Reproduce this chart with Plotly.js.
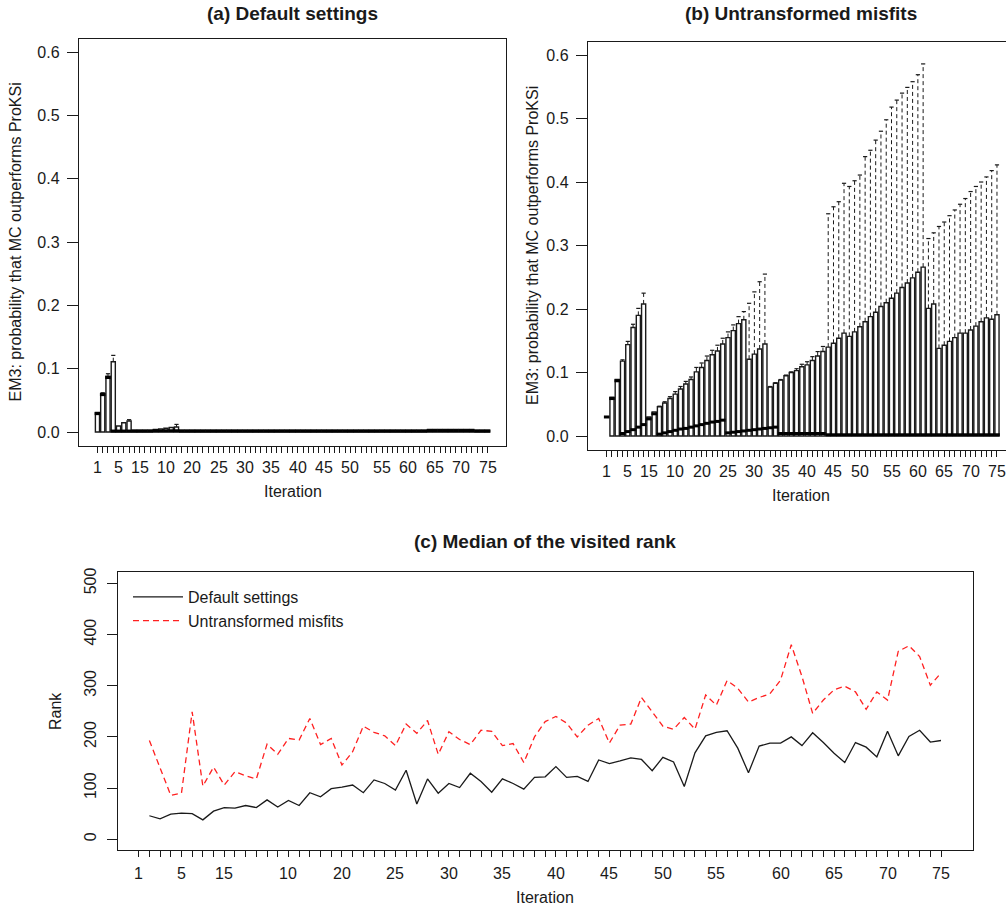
<!DOCTYPE html>
<html>
<head>
<meta charset="utf-8">
<script src="https://cdn.plot.ly/plotly-3.0.1.min.js"></script>
<style>
body{margin:0;background:#fff}
#chart{width:1006px;height:911px}
</style>
</head>
<body>
<div id="chart"></div>
<script>
// iteration positions of the boxes / points
var iterations = [1,2,3,4,5,6,7,8,9,10,11,12,13,14,15,16,17,18,19,20,21,22,23,24,25,
  26,27,28,29,30,31,32,33,34,35,36,37,38,39,40,41,42,43,44,45,46,47,48,49,50,
  51,52,53,54,55,56,57,58,59,60,61,62,63,64,65,66,67,68,69,70,71,72,73,74,75];
var ticksC = [0,1,2,3,4,5,6,7,8,9,10,11,12,13,14,15,16,17,18,19,20,21,22,23,24,25,
  26,27,28,29,30,31,32,33,34,35,36,37,38,39,40,41,42,43,44,45,46,47,48,49,50,
  51,52,53,54,55,56,57,58,59,60,61,62,63,64,65,66,67,68,69,70,71,72,73,74,75];

// tick labels as printed under the boxes
var tickLabels = ['1','5','15','10','20','25','30','35','40','45','50','55','60','65','70','75'];
var tickPosAB = [1,5,9,14,19,24,29,34,39,44,49,55,60,65,70,75];
var tickPosC = [0,4,8,14,19,24,29,34,39,44,49,54,60,65,70,75];

// (a) default settings: box statistics
var aQ1 = [0,0,0,0,0,0,0,0,0,0, 0,0,0,0,0,0,0,0,0,0, 0,0,0,0,0,0,0,0,0,0,
  0,0,0,0,0,0,0,0,0,0, 0,0,0,0,0,0,0,0,0,0, 0,0,0,0,0,0,0,0,0,0,
  0,0,0,0,0,0,0,0,0,0, 0,0,0,0,0];
var aMed = [0.029,0.059,0.086,0.0015,0.0015,0.0015,0.0015,0.0015,0.0015,0.0015,
  0.0015,0.002,0.002,0.002,0.002,0.002,0.0015,0.0015,0.0015,0.0015,
  0.0015,0.0015,0.0015,0.0015,0.0015,0.0015,0.0015,0.0015,0.0015,0.0015,
  0.0015,0.0015,0.0015,0.0015,0.0015,0.0015,0.0015,0.0015,0.0015,0.0015,
  0.0015,0.0015,0.0015,0.0015,0.0015,0.0015,0.0015,0.0015,0.0015,0.0015,
  0.0015,0.0015,0.0015,0.0015,0.0015,0.0015,0.0015,0.0015,0.0015,0.0015,
  0.0015,0.0015,0.0015,0.002,0.002,0.002,0.002,0.002,0.002,0.002,
  0.002,0.002,0.0015,0.0015,0.0015];
var aQ3 = [0.031,0.061,0.088,0.111,0.0095,0.0147,0.0174,0.003,0.003,0.003,
  0.003,0.004,0.005,0.006,0.007,0.008,0.003,0.003,0.003,0.003,
  0.003,0.003,0.003,0.003,0.003,0.003,0.003,0.003,0.003,0.003,
  0.003,0.003,0.003,0.003,0.003,0.003,0.003,0.003,0.003,0.003,
  0.003,0.003,0.003,0.003,0.003,0.003,0.003,0.003,0.003,0.003,
  0.003,0.003,0.003,0.003,0.003,0.003,0.003,0.003,0.003,0.003,
  0.003,0.003,0.003,0.004,0.004,0.004,0.004,0.004,0.004,0.004,
  0.004,0.004,0.003,0.003,0.003];
var aUp = [0.031,0.062,0.092,0.121,0.0095,0.0147,0.0195,0.003,0.003,0.003,
  0.003,0.004,0.005,0.006,0.007,0.012,0.003,0.003,0.003,0.003,
  0.003,0.003,0.003,0.003,0.003,0.003,0.003,0.003,0.003,0.003,
  0.003,0.003,0.003,0.003,0.003,0.003,0.003,0.003,0.003,0.003,
  0.003,0.003,0.003,0.003,0.003,0.003,0.003,0.003,0.003,0.003,
  0.003,0.003,0.003,0.003,0.003,0.003,0.003,0.003,0.003,0.003,
  0.003,0.003,0.003,0.004,0.004,0.004,0.004,0.004,0.004,0.004,
  0.004,0.004,0.003,0.003,0.003];

// (b) untransformed misfits: box statistics
var bQ1 = [0.03,0,0,0,0,0,0,0,0,0, 0,0,0,0,0,0,0,0,0,0, 0,0,0,0,0,0,0,0,0,0,
  0,0,0,0,0,0,0,0,0,0, 0,0,0,0,0,0,0,0,0,0, 0,0,0,0,0,0,0,0,0,0,
  0,0,0,0,0,0,0,0,0,0, 0,0,0,0,0];
var bMed = [0.030,0.059,0.087,0.004,0.007,0.010,0.014,0.018,0.027,0.035,
  0.003,0.005,0.007,0.009,0.011,0.012,0.014,0.016,0.018,0.020,
  0.022,0.023,0.025,0.005,0.006,0.007,0.008,0.009,0.010,0.011,
  0.012,0.013,0.014,0.004,0.004,0.004,0.004,0.004,0.004,0.004,
  0.004,0.004,0.002,0.002,0.002,0.002,0.002,0.002,0.002,0.002,
  0.002,0.002,0.002,0.002,0.002,0.002,0.002,0.002,0.002,0.002,
  0.002,0.002,0.002,0.002,0.002,0.002,0.002,0.002,0.002,0.002,
  0.002,0.002,0.002,0.002,0.002];
var bQ3 = [0.030,0.061,0.089,0.118,0.144,0.171,0.190,0.208,0.030,0.038,
  0.046,0.052,0.059,0.066,0.074,0.082,0.089,0.101,0.108,0.119,
  0.128,0.134,0.145,0.155,0.166,0.177,0.183,0.121,0.129,0.137,
  0.145,0.077,0.083,0.088,0.095,0.100,0.103,0.109,0.112,0.119,
  0.126,0.133,0.140,0.146,0.154,0.162,0.157,0.164,0.172,0.180,
  0.188,0.195,0.204,0.210,0.217,0.225,0.234,0.241,0.249,0.258,
  0.266,0.201,0.208,0.138,0.143,0.149,0.155,0.162,0.162,0.167,
  0.173,0.180,0.186,0.184,0.191];
var bUp = [0.030,0.061,0.089,0.120,0.149,0.176,0.201,0.225,0.030,0.038,
  0.047,0.054,0.062,0.070,0.078,0.086,0.093,0.108,0.115,0.126,
  0.135,0.143,0.154,0.164,0.175,0.188,0.196,0.209,0.227,0.243,
  0.255,0.078,0.084,0.089,0.096,0.101,0.106,0.113,0.117,0.125,
  0.133,0.141,0.350,0.361,0.369,0.398,0.393,0.402,0.411,0.440,
  0.450,0.466,0.480,0.498,0.518,0.529,0.540,0.549,0.558,0.569,
  0.586,0.311,0.320,0.330,0.337,0.347,0.356,0.365,0.374,0.385,
  0.393,0.400,0.408,0.418,0.427];

// (c) median of the visited rank
var rankDefault = [46,40,49,51,50,38,55,62,61,66,62,77,63,76,66,91,83,99,102,106,
  91,116,109,96,135,69,118,90,109,101,129,113,92,118,109,98,121,
  122,142,121,123,113,155,148,153,159,156,134,160,151,103,169,202,209,212,
  178,130,182,188,188,200,183,208,189,168,150,189,180,161,211,163,201,213,190,193];
var rankUntransformed = [193,140,86,90,249,104,141,106,132,124,118,186,166,197,194,236,185,197,145,171,
  221,209,202,183,225,207,232,166,210,195,185,213,211,183,187,150,200,
  230,240,227,200,223,236,188,223,225,277,249,221,215,238,215,282,262,310,
  295,268,277,284,311,380,318,246,272,292,299,288,254,288,272,367,378,357,301,325];

var ink = '#1a1a1a';
var fontFam = '"Liberation Sans", Arial, sans-serif';

function whiskerSegs(xs, q3, up) {
  var x = [], y = [];
  for (var i = 0; i < xs.length; i++) {
    if (up[i] > q3[i]) {
      x.push(xs[i], xs[i], null);
      y.push(q3[i], up[i], null);
    }
  }
  return {x: x, y: y};
}

function capPoints(xs, q3, up) {
  var x = [], y = [];
  for (var i = 0; i < xs.length; i++) {
    if (up[i] > q3[i]) { x.push(xs[i]); y.push(up[i]); }
  }
  return {x: x, y: y};
}

function boxTraces(xa, ya, q1, med, q3, up) {
  var w = whiskerSegs(iterations, q3, up);
  var c = capPoints(iterations, q3, up);
  return [
    {type: 'box', x: iterations, q1: q1, median: med, q3: q3,
     lowerfence: q1, upperfence: q3, width: 0.78, whiskerwidth: 0,
     fillcolor: '#ffffff', line: {color: ink, width: 1.4},
     boxpoints: false, hoverinfo: 'skip', showlegend: false, xaxis: xa, yaxis: ya},
    {type: 'scatter', mode: 'lines', x: w.x, y: w.y, connectgaps: false,
     line: {color: ink, width: 1, dash: '4px,3px'},
     hoverinfo: 'skip', showlegend: false, xaxis: xa, yaxis: ya},
    {type: 'scatter', mode: 'markers', x: c.x, y: c.y,
     marker: {symbol: 'line-ew-open', size: 3, color: ink, line: {color: ink, width: 1.2}},
     hoverinfo: 'skip', showlegend: false, xaxis: xa, yaxis: ya},
    {type: 'scatter', mode: 'markers', x: iterations, y: med,
     marker: {symbol: 'line-ew-open', size: 4, color: '#000', line: {color: '#000', width: 3}},
     hoverinfo: 'skip', showlegend: false, xaxis: xa, yaxis: ya}
  ];
}

var data = [].concat(
  boxTraces('x', 'y', aQ1, aMed, aQ3, aUp),
  boxTraces('x2', 'y2', bQ1, bMed, bQ3, bUp),
  [
    {type: 'scatter', mode: 'lines', name: 'Default settings',
     x: iterations, y: rankDefault, line: {color: ink, width: 1.3},
     xaxis: 'x3', yaxis: 'y3', hoverinfo: 'x+y'},
    {type: 'scatter', mode: 'lines', name: 'Untransformed misfits',
     x: iterations, y: rankUntransformed, line: {color: '#ff2020', width: 1.3, dash: '6px,4px'},
     xaxis: 'x3', yaxis: 'y3', hoverinfo: 'x+y'}
  ]
);

// x axis: the line and one tick per iteration, labels are added as annotations below
function tickAxis(domain, range, anchor, ticks) {
  return {
    domain: domain, range: range, anchor: anchor, fixedrange: true,
    showline: true, linecolor: ink, linewidth: 1.2, mirror: true,
    zeroline: false, showgrid: false,
    tickmode: 'array', tickvals: ticks, showticklabels: false,
    ticks: 'outside', ticklen: 6, tickwidth: 1, tickcolor: ink
  };
}

function probAxis(domain, range, anchor, mirror) {
  return {
    domain: domain, range: range, anchor: anchor, fixedrange: true,
    showline: true, linecolor: ink, linewidth: 1.2, mirror: mirror,
    zeroline: false, showgrid: false,
    tickmode: 'array', tickvals: [0, 0.1, 0.2, 0.3, 0.4, 0.5, 0.6],
    ticktext: ['0.0', '0.1', '0.2', '0.3', '0.4', '0.5', '0.6'],
    ticks: 'outside', ticklen: 11, tickwidth: 1, tickcolor: ink,
    ticklabelstandoff: 4, tickfont: {size: 16, color: ink}
  };
}

function note(text, px, py, size, angle) {
  return {text: text, xref: 'paper', yref: 'paper', x: px / 1006, y: 1 - py / 911,
          xanchor: 'center', yanchor: 'middle', showarrow: false, textangle: angle || 0,
          font: {size: size, color: ink, family: fontFam}};
}

function tickNotes(xref, pos, py) {
  var out = [];
  for (var i = 0; i < pos.length; i++) {
    out.push({text: tickLabels[i], xref: xref, x: pos[i], yref: 'paper', y: 1 - py / 911,
              xanchor: 'center', yanchor: 'middle', showarrow: false,
              font: {size: 16, color: ink, family: fontFam}});
  }
  return out;
}

var domA = [79 / 1006, 506 / 1006], rangeA = [-2.5, 78.5];
var domB = [588 / 1006, 1], rangeB = [-2.546, 76.71];
var domC = [117.7 / 1006, 972.7 / 1006], rangeC = [-1.96, 77.96];

var layout = {
  width: 1006, height: 911,
  margin: {l: 0, r: 0, t: 0, b: 0},
  paper_bgcolor: '#ffffff', plot_bgcolor: '#ffffff',
  font: {family: fontFam, size: 16, color: ink},
  showlegend: true,
  legend: {x: 128 / 1006, y: 1 - 580 / 911, xanchor: 'left', yanchor: 'top',
           bgcolor: 'rgba(0,0,0,0)', borderwidth: 0, font: {size: 16, color: ink},
           itemwidth: 50, tracegroupgap: 0},
  xaxis: tickAxis(domA, rangeA, 'y', iterations),
  yaxis: probAxis([1 - 446 / 911, 1 - 39 / 911], [-0.0221, 0.6206], 'x', true),
  xaxis2: tickAxis(domB, rangeB, 'y2', iterations),
  yaxis2: probAxis([1 - 450 / 911, 1 - 42 / 911], [-0.022, 0.6205], 'x2', false),
  xaxis3: tickAxis(domC, rangeC, 'y3', ticksC),
  yaxis3: {
    domain: [1 - 850 / 911, 1 - 571.7 / 911], range: [-20.9, 522.7], anchor: 'x3', fixedrange: true,
    showline: true, linecolor: ink, linewidth: 1.2, mirror: true,
    zeroline: false, showgrid: false,
    tickmode: 'array', tickvals: [0, 100, 200, 300, 400, 500], tickangle: -90,
    ticks: 'outside', ticklen: 10, tickwidth: 1, tickcolor: ink,
    ticklabelstandoff: 4, tickfont: {size: 16, color: ink}
  },
  annotations: [
    note('<b>(a) Default settings</b>', 292.5, 13, 19),
    note('<b>(b) Untransformed misfits</b>', 801, 13, 19),
    note('<b>(c) Median of the visited rank</b>', 545, 541, 19),
    note('Iteration', 292.5, 491, 16),
    note('Iteration', 801, 496, 16),
    note('Iteration', 545, 897, 16),
    note('EM3: probability that MC outperforms ProKSi', 15, 242.5, 16, -90),
    note('EM3: probability that MC outperforms ProKSi', 533, 246, 16, -90),
    note('Rank', 55, 711, 16, -90)
  ].concat(
    tickNotes('x', tickPosAB, 467),
    tickNotes('x2', tickPosAB, 471),
    tickNotes('x3', tickPosC, 873)
  )
};

Plotly.newPlot('chart', data, layout, {displayModeBar: false, staticPlot: true});
</script>
</body>
</html>
